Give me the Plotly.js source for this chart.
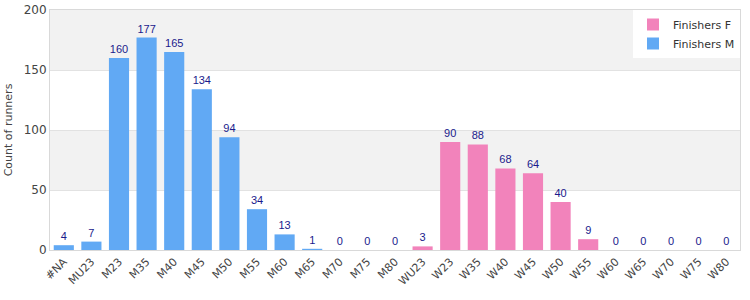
<!DOCTYPE html>
<html>
<head>
<meta charset="utf-8">
<script src="https://cdn.plot.ly/plotly-3.0.1.min.js"></script>
<style>html,body{margin:0;padding:0;background:#fff;}#chart{width:750px;height:300px;}</style>
</head>
<body>
<div id="chart"></div>
<script>
const categoriesM = ["#NA","MU23","M23","M35","M40","M45","M50","M55","M60","M65","M70","M75","M80"];
const valuesM = [4,7,160,177,165,134,94,34,13,1,0,0,0];
const categoriesF = ["WU23","W23","W35","W40","W45","W50","W55","W60","W65","W70","W75","W80"];
const valuesF = [3,90,88,68,64,40,9,0,0,0,0,0];
const allCategories = categoriesM.concat(categoriesF);
const yTicks = [0,50,100,150,200];

const textFont = {family: "Liberation Sans, Arial, sans-serif", size: 11, color: "#1a1a8c"};

const traceF = {
  type: "bar", name: "Finishers F", x: categoriesF, y: valuesF,
  text: valuesF.map(String), textposition: "outside", textfont: textFont,
  marker: {color: "#f283bb"}, cliponaxis: false, hoverinfo: "x+y"
};
const traceM = {
  type: "bar", name: "Finishers M", x: categoriesM, y: valuesM,
  text: valuesM.map(String), textposition: "outside", textfont: textFont,
  marker: {color: "#61a9f4"}, cliponaxis: false, hoverinfo: "x+y"
};

const layout = {
  width: 750, height: 300,
  margin: {l: 50, r: 10, t: 10, b: 50},
  paper_bgcolor: "#ffffff", plot_bgcolor: "#ffffff",
  font: {family: "DejaVu Sans, sans-serif", size: 11, color: "#444"},
  barmode: "overlay", bargap: 0.27,
  showlegend: true,
  legend: {x: 1, xanchor: "right", y: 1, yanchor: "top",
           bgcolor: "#ffffff", itemwidth: 30,
           font: {family: "DejaVu Sans, sans-serif", size: 11, color: "#333"}, traceorder: "normal"},
  xaxis: {type: "category", categoryorder: "array", categoryarray: allCategories,
          tickangle: -45, showgrid: false, zeroline: false, showline: true, linecolor: "#d9d9d9", mirror: true,
          tickfont: {size: 11, color: "#444"}, ticks: "", automargin: false},
  yaxis: {range: [0, 200], tickvals: yTicks, showgrid: true, gridcolor: "#e2e2e2", zeroline: false,
          showline: true, linecolor: "#d9d9d9", mirror: true, automargin: false,
          tickfont: {size: 12, color: "#444"},
          title: {text: "Count of runners", font: {size: 11, color: "#444"}, standoff: 8}},
  shapes: [
    {type: "rect", xref: "paper", yref: "y", x0: 0, x1: 1, y0: 150, y1: 200, fillcolor: "#f2f2f2", line: {width: 0}, layer: "below"},
    {type: "rect", xref: "paper", yref: "y", x0: 0, x1: 1, y0: 50, y1: 100, fillcolor: "#f2f2f2", line: {width: 0}, layer: "below"}
  ]
};

Plotly.newPlot("chart", [traceF, traceM], layout, {displayModeBar: false, staticPlot: true});
</script>
</body>
</html>
